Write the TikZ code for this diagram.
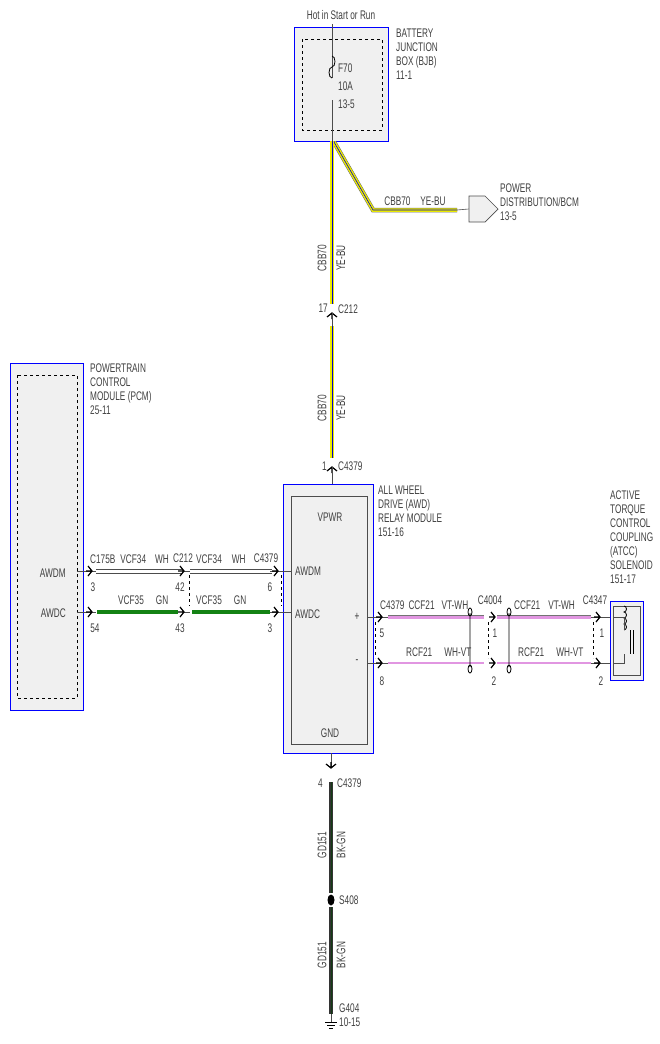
\documentclass[tikz,border=0pt]{standalone}
\usepackage{fontspec}
\setmainfont[FakeStretch=0.66]{Liberation Sans}
\usetikzlibrary{arrows.meta,positioning,shapes.geometric,shapes.symbols}
\definecolor{modfill}{RGB}{240,240,240}
\definecolor{wyel}{RGB}{235,235,0}
\definecolor{wgrn}{RGB}{20,130,20}
\definecolor{wpink}{RGB}{225,150,225}
\definecolor{wdark}{RGB}{20,60,20}
\tikzset{
  lbl/.style={font=\fontsize{12.5}{14}\selectfont, inner sep=0pt, text=black!75},
  mlbl/.style={lbl, align=left, anchor=north west},
  module/.style={draw=blue, fill=modfill, line width=0.8pt},
  dashbox/.style={draw, dashed, line width=0.9pt},
  thin wire/.style={draw=black!70, line width=0.6pt},
  chev/.pic={\draw[line width=1.2pt] (-4,-5) -- (0,0) -- (-4,5) (-6,0) -- (0,0);},
}
\newcommand{\yelwire}[1]{\draw[black!60,line width=4.5pt] #1; \draw[wyel,line width=3.5pt] #1; \draw[blue!80!black,line width=0.6pt] #1;}
\newcommand{\pinkwire}[2]{\draw[black!55,line width=#2+1pt] #1; \draw[wpink,line width=#2] #1;}
\begin{document}
\begin{tikzpicture}[x=1pt,y=-1pt]
  \useasboundingbox (0,0) rectangle (660,1044);
  % battery junction box
  \draw[module] (294,27) rectangle (388,141);
  \draw[dashbox] (302,39) rectangle (382,130);
  \node[lbl] (hot) at (341,15) {Hot in Start or Run};
  \node[mlbl] (bjb) at (396,29) {BATTERY\\JUNCTION\\BOX (BJB)\\11-1};
  \coordinate (ftop) at (332,24);
  \coordinate (fa) at (332,78);
  \coordinate (fb) at (332,100);
  \coordinate (bjbout) at (332,141);
  \draw[thin wire] (ftop) -- (fa) (fb) -- (bjbout);
  \draw[line width=0.8pt] (fa) arc (90:270:3 and 5.5) arc (90:-90:3 and 5.5);
  \node[mlbl] (fuse) at (338,64) {F70\\[4pt]10A\\[4pt]13-5};
  % power distribution branch
  \node[draw=black!70, fill=modfill, shape=signal, signal to=east, minimum width=29pt, minimum height=26pt, inner sep=0pt, line width=0.7pt] (pdist) at (477,209) {};
  \node[mlbl] (pdlbl) at (500,184) {POWER\\DISTRIBUTION/BCM\\13-5};
  \coordinate (bend) at (373,210);
  \coordinate (pdend) at (457,210);
  \yelwire{(334,142) -- (bend) -- (pdend)}
  \draw[thin wire] (pdend) -- (pdist.west);
  \node[lbl, anchor=south] at (415,206) {CBB70\hspace{10pt}YE-BU};
  % feed to C212
  \coordinate (c212a) at (332,304);
  \coordinate (c212b) at (332,326);
  \yelwire{(bjbout) -- (c212a)}
  \pic[rotate=90] at (332,313) {chev};
  \draw[thin wire] (332,313) -- (c212b);
  \node[lbl, rotate=90] at (322,258) {CBB70};
  \node[lbl, rotate=90] at (341,258) {YE-BU};
  \node[lbl, anchor=east] at (328,308) {17};
  \node[lbl, anchor=west] at (338,309) {C212};
  \coordinate (c4379a) at (332,458);
  \yelwire{(c212b) -- (c4379a)}
  \node[lbl, rotate=90] at (322,408) {CBB70};
  \node[lbl, rotate=90] at (341,408) {YE-BU};
  \pic[rotate=90] at (332,467) {chev};
  \draw[thin wire] (332,467) -- (332,484);
  \node[lbl, anchor=east] at (327,466) {1};
  \node[lbl, anchor=west] at (338,466) {C4379};
  % awd relay module
  \draw[module] (283,484) rectangle (373,753);
  \draw[draw=black!70, fill=modfill, line width=0.7pt] (291,496) rectangle (367,744);
  \node[lbl] (vpwr) at (330,517) {VPWR};
  \node[lbl, anchor=west] (awdmr) at (295,571) {AWDM};
  \node[lbl, anchor=west] (awdcr) at (295,614) {AWDC};
  \node[lbl] at (357,617) {+};
  \node[lbl] at (357,662) {-};
  \node[lbl] (gnd) at (330,733) {GND};
  \node[mlbl] (awd) at (378,486) {ALL WHEEL\\DRIVE (AWD)\\RELAY MODULE\\151-16};
  % powertrain control module
  \draw[module] (10,363) rectangle (83,710);
  \draw[dashbox] (17,375) rectangle (77,698);
  \node[mlbl] (pcm) at (90,364) {POWERTRAIN\\CONTROL\\MODULE (PCM)\\25-11};
  \node[lbl, anchor=east] (awdml) at (66,573) {AWDM};
  \node[lbl, anchor=east] (awdcl) at (66,613) {AWDC};
  % left wires
  \draw[thin wire] (77,571) -- (96,571) (184,571) -- (190,571) (270,571) -- (291,571);
  \draw[thin wire] (77,612) -- (96,612) (184,612) -- (190,612) (270,612) -- (291,612);
  \foreach \y in {569,573} \draw[thin wire] (96,\y) -- (182,\y) (190,\y) -- (272,\y);
  \draw[wgrn, line width=4pt] (97,612) -- (178,612) (192,612) -- (270,612);
  \foreach \x in {92,184,278} {
    \pic at (\x,571) {chev};
    \pic at (\x,612) {chev};
  }
  \draw[dashed, line width=0.8pt] (189,575) -- (189,606) (281,575) -- (281,606);
  \node[lbl, anchor=south west] at (90,564) {C175B\hspace{5pt}VCF34\hspace{9pt}WH};
  \node[lbl, anchor=south] at (183,563) {C212};
  \node[lbl, anchor=south west] at (196,564) {VCF34\hspace{10pt}WH};
  \node[lbl, anchor=south] at (266,563) {C4379};
  \node[lbl, anchor=south west] at (118,605) {VCF35\hspace{12pt}GN};
  \node[lbl, anchor=south west] at (196,605) {VCF35\hspace{12pt}GN};
  \node[lbl] at (93,587) {3};
  \node[lbl] at (180,587) {42};
  \node[lbl] at (270,587) {6};
  \node[lbl] at (95,628) {54};
  \node[lbl] at (180,628) {43};
  \node[lbl] at (270,628) {3};
  % right wires to atcc
  \draw[thin wire] (367,617) -- (388,617) (367,663) -- (388,663);
  \pinkwire{(388,617) -- (484,617) (497,617) -- (591,617)}{3pt}
  \pinkwire{(388,663) -- (484,663) (497,663) -- (591,663)}{1.5pt}
  \draw[thin wire] (591,617) -- (613,617) (591,663) -- (613,663);
  \foreach \x in {382,495,600} {
    \pic at (\x,617) {chev};
    \pic at (\x,663) {chev};
  }
  \draw[dashed, line width=0.8pt] (375,622) -- (375,658) (488,622) -- (488,658) (593,622) -- (593,658);
  \foreach \x in {470,509} \draw[line width=0.8pt] (\x,667) -- (\x,613) (\x,669) ellipse (2 and 4) (\x,612) ellipse (2 and 4);
  \node[lbl, anchor=south west] at (380,610) {C4379\hspace{4pt}CCF21\hspace{7pt}VT-WH};
  \node[lbl, anchor=south] at (490,605) {C4004};
  \node[lbl, anchor=south west] at (514,610) {CCF21\hspace{8pt}VT-WH};
  \node[lbl, anchor=south] at (595,605) {C4347};
  \node[lbl, anchor=south west] at (406,657) {RCF21\hspace{12pt}WH-VT};
  \node[lbl, anchor=south west] at (518,657) {RCF21\hspace{12pt}WH-VT};
  \node[lbl] at (382,633) {5};
  \node[lbl] at (495,633) {1};
  \node[lbl] at (602,633) {1};
  \node[lbl] at (382,681) {8};
  \node[lbl] at (494,681) {2};
  \node[lbl] at (601,681) {2};
  % atcc solenoid
  \draw[module] (610,601) rectangle (643,680);
  \draw[draw=black!70, fill=modfill, line width=0.7pt] (613,606) rectangle (640,675);
  \draw[line width=0.8pt] (624,630) arc (90:-90:2.5 and 3) arc (90:-90:2.5 and 3) arc (90:-90:2.5 and 3) arc (90:-90:2.5 and 3);
  \draw[line width=0.8pt] (630,630) -- (630,654) (633,630) -- (633,654);
  \draw[thin wire] (613,617) -- (624,617) -- (624,630) (624,654) -- (624,663) -- (613,663);
  \node[mlbl] (atcc) at (610,491) {ACTIVE\\TORQUE\\CONTROL\\COUPLING\\(ATCC)\\SOLENOID\\151-17};
  % ground
  \coordinate (gtop) at (331,782);
  \coordinate (splice) at (331,900);
  \coordinate (gbot) at (331,1014);
  \draw[thin wire] (331,753) -- (331,768);
  \pic[rotate=-90] at (331,768) {chev};
  \node[lbl, anchor=east] at (323,783) {4};
  \node[lbl, anchor=west] at (337,783) {C4379};
  \draw[black!80, line width=4pt] (gtop) -- (331,893) (331,907) -- (gbot);
  \draw[wdark, line width=1pt] (gtop) -- (331,893) (331,907) -- (gbot);
  \fill (splice) ellipse (3.5 and 5.5);
  \node[lbl, anchor=west] at (339,900) {S408};
  \node[lbl, rotate=90] at (322,845) {GD151};
  \node[lbl, rotate=90] at (341,845) {BK-GN};
  \node[lbl, rotate=90] at (322,955) {GD151};
  \node[lbl, rotate=90] at (341,955) {BK-GN};
  \draw[thin wire] (gbot) -- (331,1022);
  \draw[line width=0.7pt] (325,1022) -- (337,1022) (327,1025) -- (335,1025) (329,1028) -- (333,1028);
  \node[mlbl] (g404) at (339,1004) {G404\\10-15};
\end{tikzpicture}
\end{document}
